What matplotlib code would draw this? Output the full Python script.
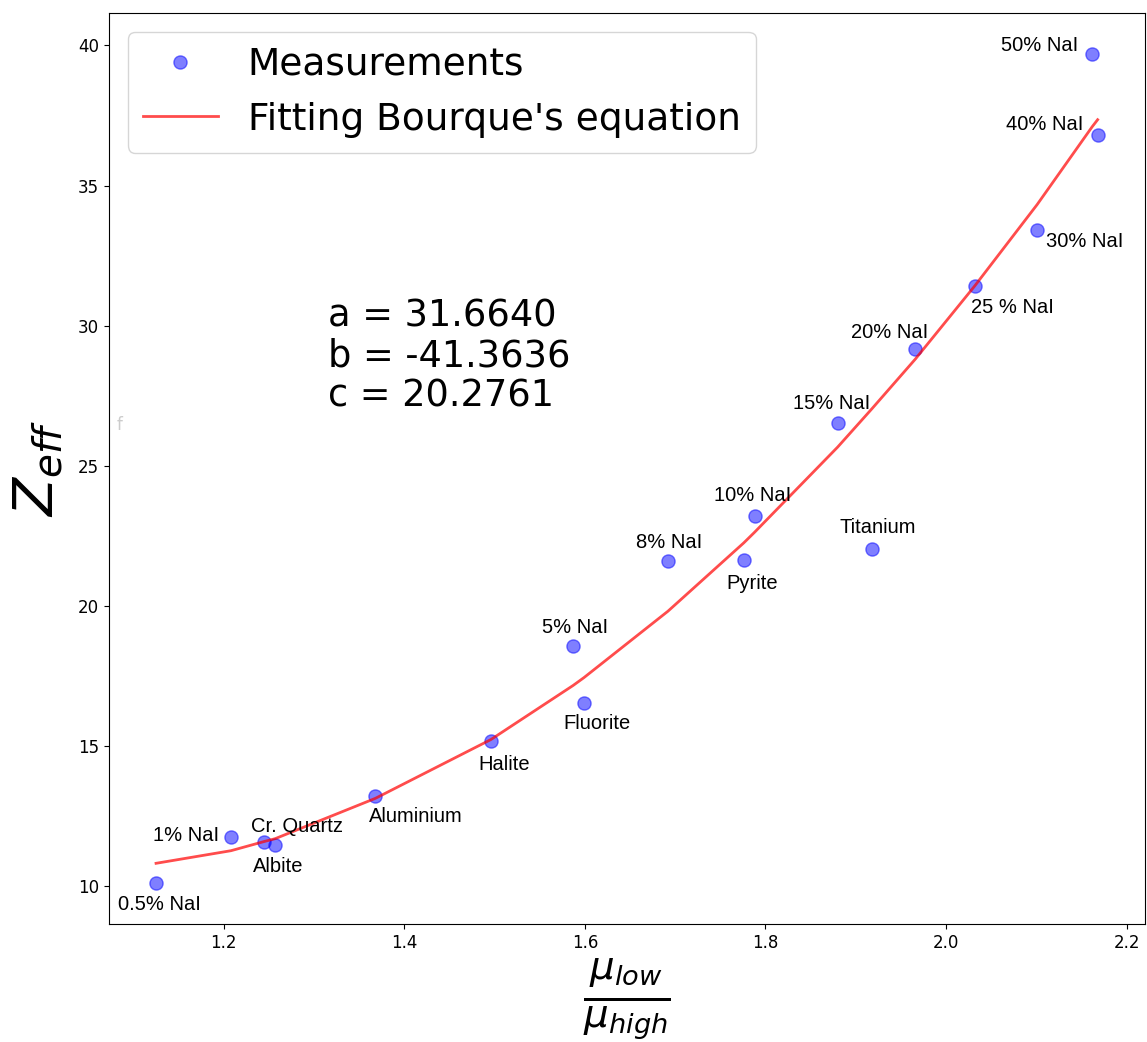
import numpy as np
import matplotlib
matplotlib.use('Agg')
import matplotlib.pyplot as plt

# measurements (ratio mu_low/mu_high, Zeff)
names = ['0.5% NaI', '1% NaI', 'Cr. Quartz', 'Albite', 'Aluminium', 'Halite',
         '5% NaI', 'Fluorite', '8% NaI', 'Pyrite', '10% NaI', '15% NaI',
         'Titanium', '20% NaI', '25 % NaI', '30% NaI', '50% NaI', '40% NaI']
ratio = [1.125, 1.208, 1.245, 1.257, 1.368, 1.496,
         1.587, 1.599, 1.692, 1.776, 1.788, 1.880,
         1.918, 1.966, 2.032, 2.101, 2.162, 2.168]
zeff = [10.11, 11.75, 11.57, 11.47, 13.22, 15.18,
        18.55, 16.54, 21.58, 21.62, 23.19, 26.52,
        22.01, 29.16, 31.42, 33.42, 39.68, 36.81]

# fitted curve values at the measured ratios
zfit = [10.80, 11.25, 11.58, 11.68, 13.12, 15.22,
        17.15, 17.43, 19.80, 22.24, 22.62, 25.66,
        27.03, 28.80, 31.42, 34.32, 37.10, 37.35]

# label offsets in pixels (dx, dy)
offsets = [(3, -22), (-45, 1), (33, 15), (3, -22), (40, -21), (13, -24),
           (2, 19), (13, -21), (1, 19), (8, -23), (-2, 21), (-6, 20),
           (6, 22), (-26, 17), (38, -22), (48, -12), (-53, 9), (-53, 10)]

fig = plt.figure(figsize=(11.47, 10.42), dpi=100)
ax = fig.add_axes([0.095, 0.1132, 0.903, 0.8743])

ax.plot(ratio, zeff, 'o', color='blue', alpha=0.5, markersize=9.5,
        label='Measurements')
ax.plot(ratio, zfit, '-', color='red', alpha=0.7, linewidth=2,
        label="Fitting Bourque's equation")

for n, xv, yv, off in zip(names, ratio, zeff, offsets):
    ax.annotate(n, (xv, yv), xytext=off, textcoords='offset pixels',
                ha='center', va='center', fontsize=14.5,
                family=['Liberation Sans', 'DejaVu Sans'])

ax.text(0.2114, 0.688, 'a = 31.6640\nb = -41.3636\nc = 20.2761',
        transform=ax.transAxes, fontsize=26.5, va='top', ha='left',
        linespacing=1.1)

ax.tick_params(labelsize=12)
ax.set_xlabel(r'$\frac{\mu_{low}}{\mu_{high}}$', fontsize=40, labelpad=4)
ax.set_ylabel(r'$Z_{eff}$', fontsize=40, labelpad=10)

ax.legend(loc='upper left', fontsize=27)

fig.text(120 / 1147, 1 - 425 / 1042, 'f', color='#cccccc', fontsize=12,
         ha='center', va='center')

fig.savefig('out.png', dpi=100)
